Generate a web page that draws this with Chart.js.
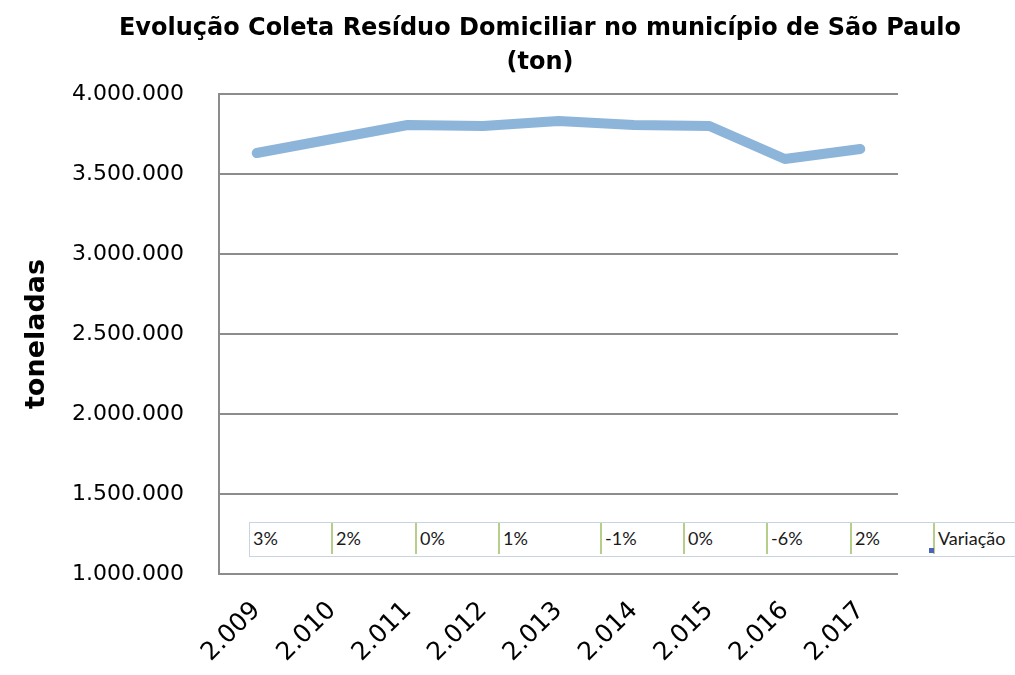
<!DOCTYPE html>
<html>
<head>
<meta charset="utf-8">
<script src="https://cdn.jsdelivr.net/npm/chart.js@4.4.0/dist/chart.umd.min.js"></script>
<style>
    body { margin: 0; background: #fff; }
    #wrap { position: relative; width: 1015px; height: 675px; }
    #titulo { position: absolute; left: 40px; width: 1000px; top: 10px; text-align: center;
              font-family: 'DejaVu Sans', sans-serif; font-weight: bold; font-size: 24px; line-height: 34px; color: #000; }
    #tabela { position: absolute; left: 249px; top: 522px; height: 33px; display: flex;
              border-top: 1px solid #c9d4e3; border-bottom: 1px solid #c9d4e3; border-left: 1px solid #c9d4e3;
              background: #fff; font-family: Lato, sans-serif; font-size: 18px; color: #1a1a1a; }
    #tabela div { box-sizing: border-box; height: 31px; line-height: 31px; padding-left: 3px;
                  border-right: 2px solid #b5cf8a; }
    #tabela div.ultima { border-right: none; }
    #canto { position: absolute; left: 929px; top: 548px; width: 5px; height: 5px; background: #4a62b8; }
</style>
</head>
<body>
<div id="wrap">
    <canvas id="line_chart" width="1015" height="675"></canvas>
    <div id="titulo">Evolução Coleta Resíduo Domiciliar no município de São Paulo<br>(ton)</div>
    <div id="tabela"></div>
    <div id="canto"></div>
</div>
<script>
var anos = ["2.009", "2.010", "2.011", "2.012", "2.013", "2.014", "2.015", "2.016", "2.017"];
var toneladas = [3631000, 3719000, 3806000, 3800000, 3831000, 3806000, 3800000, 3594000, 3656000];
var variacao = ["3%", "2%", "0%", "1%", "-1%", "0%", "-6%", "2%"];
var rotuloVariacao = "Variação";

function formatBR(v) {
    return String(v).replace(/\B(?=(\d{3})+(?!\d))/g, ".");
}

// data table under the line (Excel style)
var larguras = [83, 84, 83, 102, 83, 83, 84, 83, 81];
var tabela = document.getElementById("tabela");
variacao.concat([rotuloVariacao]).forEach(function (t, i) {
    var d = document.createElement("div");
    d.textContent = t;
    d.style.width = larguras[i] + "px";
    if (i === variacao.length) d.className = "ultima";
    tabela.appendChild(d);
});

new Chart(document.getElementById("line_chart").getContext("2d"), {
    type: 'line',
    data: {
        labels: anos,
        datasets: [{
            label: "toneladas",
            data: toneladas,
            borderColor: '#8db4d9',
            borderWidth: 10,
            borderCapStyle: 'round',
            borderJoinStyle: 'round',
            pointRadius: 0,
            tension: 0,
            fill: false
        }]
    },
    options: {
        responsive: false,
        animation: false,
        layout: { padding: { left: 10, right: 117, top: 94, bottom: 0 } },
        plugins: {
            legend: false,
            tooltip: false,
            title: false
        },
        scales: {
            x: {
                offset: true,
                grid: { display: false },
                border: { display: false },
                ticks: {
                    color: '#000',
                    font: { family: 'DejaVu Sans', size: 25 },
                    minRotation: 45,
                    maxRotation: 45,
                    padding: 14
                },
                afterFit: function (scale) { scale.height = 101; }
            },
            y: {
                min: 1000000,
                max: 4000000,
                grid: { color: '#8c8c8c', lineWidth: 2, drawTicks: false },
                border: { display: true, color: '#8c8c8c', width: 2 },
                ticks: {
                    stepSize: 500000,
                    color: '#000',
                    font: { family: 'DejaVu Sans', size: 22 },
                    padding: 35,
                    callback: function (v) { return formatBR(v); }
                },
                title: {
                    display: true,
                    text: 'toneladas',
                    color: '#000',
                    font: { family: 'DejaVu Sans', size: 27, weight: 'bold' },
                    padding: { top: 11, bottom: 0 }
                },
                afterFit: function (scale) { scale.width = 209; }
            }
        }
    }
});
</script>
</body>
</html>
